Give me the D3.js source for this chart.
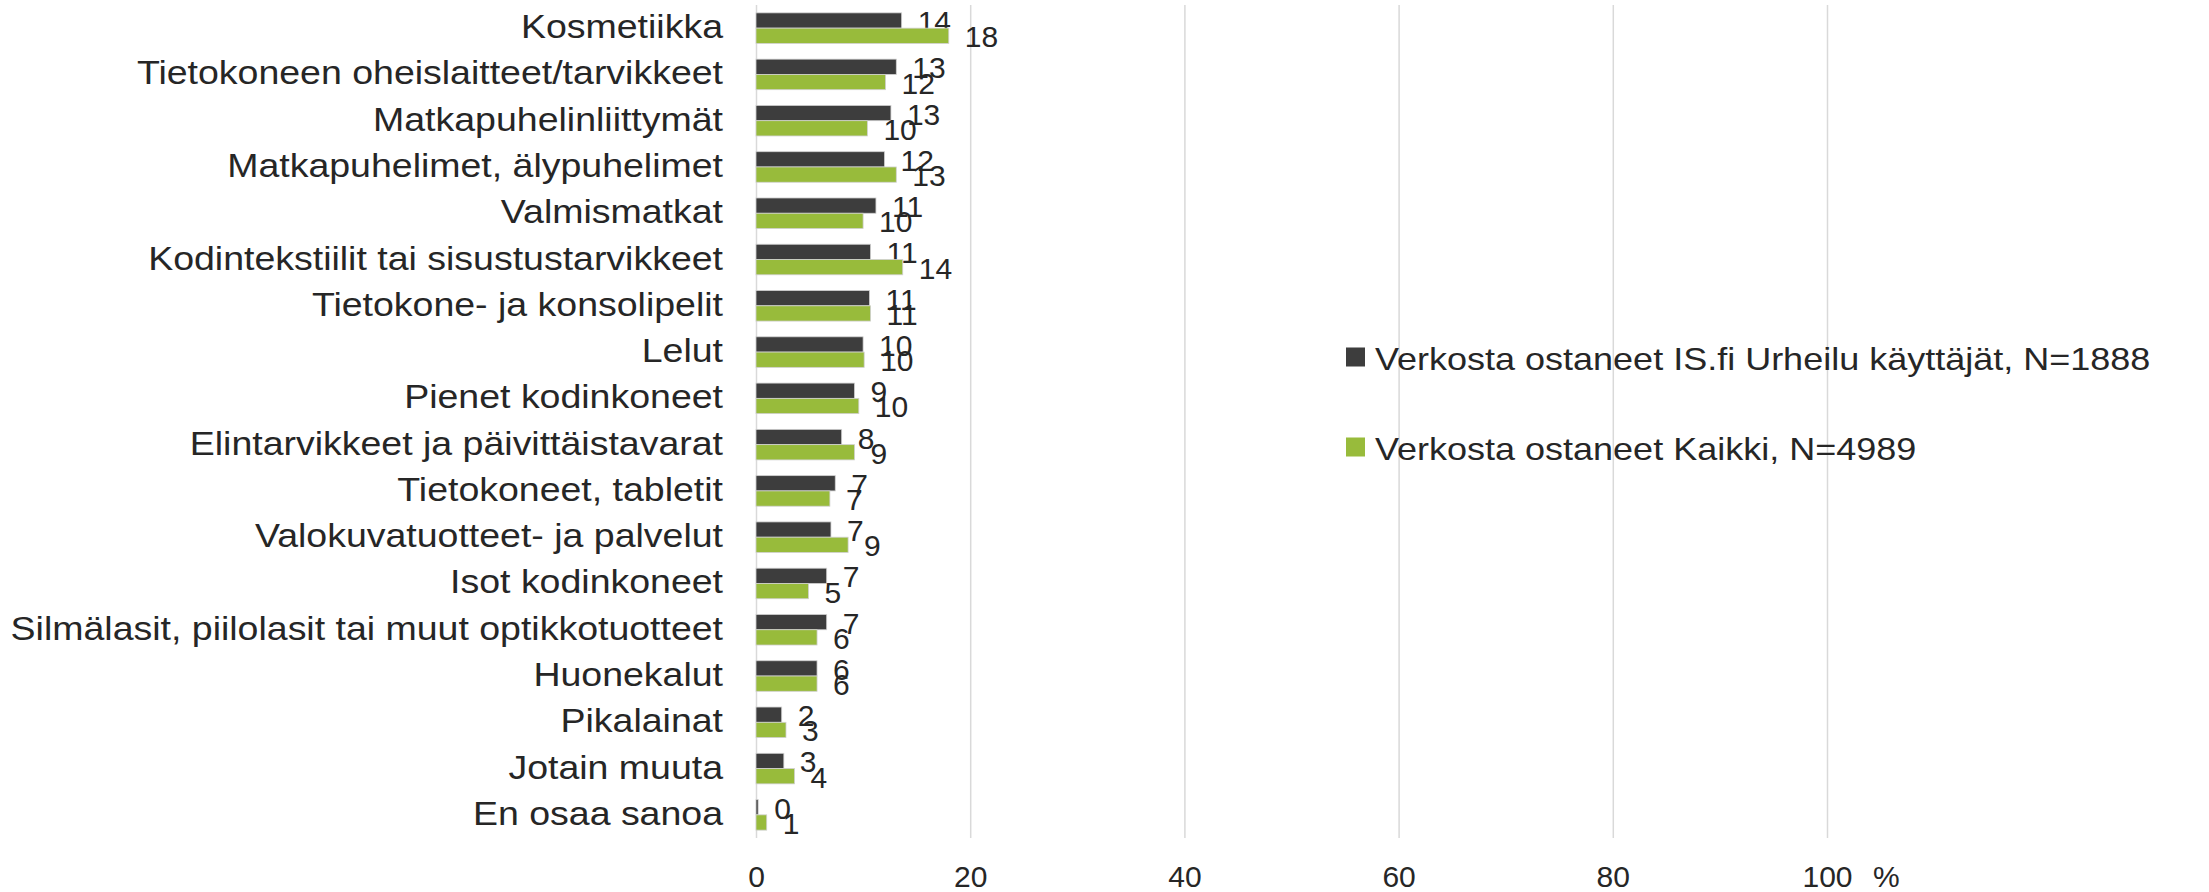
<!DOCTYPE html>
<html>
<head>
<meta charset="utf-8">
<script src="https://cdn.jsdelivr.net/npm/d3@7"></script>
<style>
  body { margin: 0; background: #fff; }
  text { font-family: 'Liberation Sans', Arial, sans-serif; fill: #262626; }
</style>
</head>
<body>
<script>
// categories, top to bottom
const categories = [
    'Kosmetiikka',
    'Tietokoneen oheislaitteet/tarvikkeet',
    'Matkapuhelinliittymät',
    'Matkapuhelimet, älypuhelimet',
    'Valmismatkat',
    'Kodintekstiilit tai sisustustarvikkeet',
    'Tietokone- ja konsolipelit',
    'Lelut',
    'Pienet kodinkoneet',
    'Elintarvikkeet ja päivittäistavarat',
    'Tietokoneet, tabletit',
    'Valokuvatuotteet- ja palvelut',
    'Isot kodinkoneet',
    'Silmälasit, piilolasit tai muut optikkotuotteet',
    'Huonekalut',
    'Pikalainat',
    'Jotain muuta',
    'En osaa sanoa'
]

// series values (%)
const urheilu = [13.6, 13.1, 12.6, 12.0, 11.2, 10.7, 10.6, 10.0, 9.2, 8.0, 7.4, 7.0, 6.6, 6.6, 5.7, 2.4, 2.6, 0.2]
const kaikki = [18.0, 12.1, 10.4, 13.1, 10.0, 13.7, 10.7, 10.1, 9.6, 9.2, 6.9, 8.6, 4.9, 5.7, 5.7, 2.8, 3.6, 1.0]

const seriesNames = [
    'Verkosta ostaneet IS.fi Urheilu käyttäjät, N=1888',
    'Verkosta ostaneet Kaikki, N=4989'
]
const seriesColors = ['#3d3d3d', '#98bb3b']

const xTicks = [0, 20, 40, 60, 80, 100]

// measurements
const m = {
    width: 2209,
    height: 892,
    left: 756,
    right: 1827,
    top: 5,
    bottom: 838
}

const svg = d3.select('body').append('svg')
    .attr('width', m.width)
    .attr('height', m.height)

// scales
const xScale = d3.scaleLinear()
    .domain([0, 100])
    .range([m.left, m.right])

const yScale = d3.scaleBand()
    .domain(categories)
    .range([m.top, m.bottom])
    .paddingInner(0.34)
    .paddingOuter(0.17)

const ySub = d3.scaleBand()
    .domain([0, 1])
    .range([0, yScale.bandwidth()])

// gridlines
const grid = svg.append('g')
    .attr('transform', `translate(0,${m.bottom})`)
    .call(d3.axisBottom(xScale).tickValues(xTicks).tickSize(-(m.bottom - m.top)).tickFormat(''))
grid.select('.domain').remove()
grid.selectAll('line').attr('stroke', '#d9d9d9').attr('stroke-width', 1.5)

// tick labels
const xAxis = svg.append('g')
    .attr('transform', `translate(0,${m.bottom})`)
    .call(d3.axisBottom(xScale).tickValues(xTicks).tickSize(0).tickPadding(28))
xAxis.select('.domain').remove()
xAxis.selectAll('text')
    .attr('font-size', 30)
    .attr('font-family', null)
    .attr('fill', '#262626')

svg.append('text')
    .attr('x', xScale(100) + 46)
    .attr('y', m.bottom + 28)
    .attr('dy', '0.71em')
    .attr('font-size', 30)
    .text('%')

// category labels (the original font is a bit squat, so squash it a little)
svg.append('g').selectAll('text')
    .data(categories)
    .join('text')
    .attr('transform', d => `translate(723,${yScale(d) + yScale.bandwidth() / 2 + 10}) scale(1,0.87)`)
    .attr('text-anchor', 'end')
    .attr('font-size', 37.5)
    .text(d => d)

// bars and data labels for each series
const fmt = d3.format('.0f')
const allSeries = [urheilu, kaikki]

allSeries.forEach((vals, s) => {
    const rows = vals.map((v, i) => ({ cat: categories[i], v }))

    svg.append('g').selectAll('rect')
        .data(rows)
        .join('rect')
        .attr('x', xScale(0))
        .attr('y', d => yScale(d.cat) + ySub(s))
        .attr('width', d => xScale(d.v) - xScale(0))
        .attr('height', ySub.bandwidth())
        .attr('fill', seriesColors[s])
        .attr('stroke', '#d0d0d0')
        .attr('stroke-width', 0.8)

    svg.append('g').selectAll('text')
        .data(rows)
        .join('text')
        .attr('x', d => xScale(d.v) + 16)
        .attr('y', d => yScale(d.cat) + ySub(s) + ySub.bandwidth() / 2 + 1)
        .attr('dy', '0.35em')
        .attr('font-size', 30)
        .text(d => fmt(d.v))
})

// legend
const legend = svg.append('g')
    .selectAll('g')
    .data(seriesNames)
    .join('g')
    .attr('transform', (d, i) => `translate(1346,${357 + i * 90})`)

legend.append('rect')
    .attr('x', 0)
    .attr('y', -9.5)
    .attr('width', 19)
    .attr('height', 19)
    .attr('fill', (d, i) => seriesColors[i])

legend.append('text')
    .attr('transform', 'translate(29,13) scale(1,0.87)')
    .attr('font-size', 36)
    .text(d => d)
</script>
</body>
</html>
